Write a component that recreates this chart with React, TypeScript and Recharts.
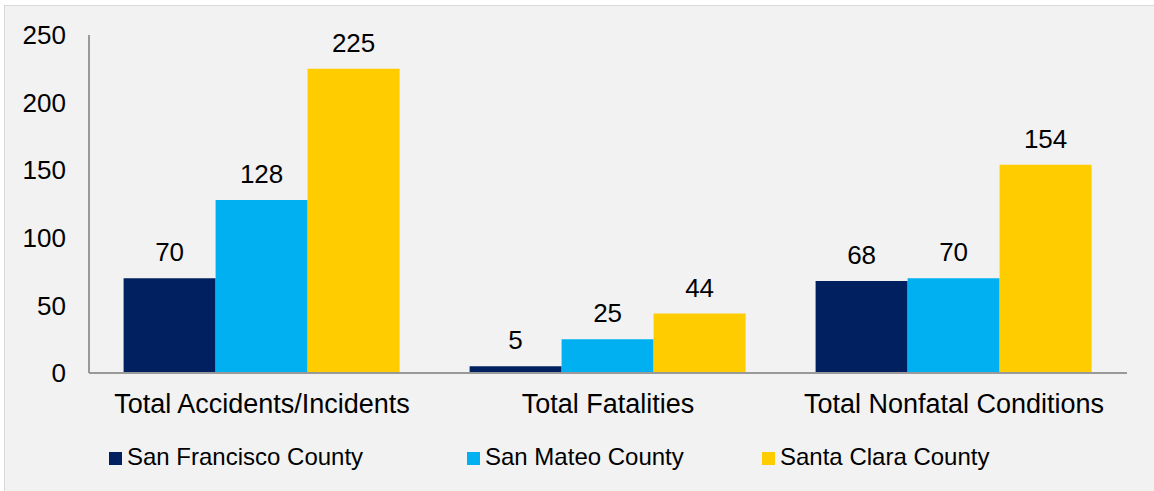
import React from "react";
import { BarChart, Bar, XAxis, YAxis, LabelList, Legend } from "recharts";

const categories = ["Total Accidents/Incidents", "Total Fatalities", "Total Nonfatal Conditions"];
const sanFrancisco = [70, 5, 68];
const sanMateo = [128, 25, 70];
const santaClara = [225, 44, 154];
const seriesNames = ["San Francisco County", "San Mateo County", "Santa Clara County"];
const yTicks = [0, 50, 100, 150, 200, 250];

const colors = ["#002060", "#00B0F0", "#FFCC00"];
const legendLefts = [109, 467, 762];
const FONT = "'Liberation Sans', Arial, Helvetica, sans-serif";

const data = categories.map((c, i) => ({
  name: c,
  sf: sanFrancisco[i],
  sm: sanMateo[i],
  sc: santaClara[i],
}));

const keys = ["sf", "sm", "sc"];

const LegendContent = () => (
  <div style={{ position: "relative", width: 1154, height: 30, fontFamily: FONT }}>
    {seriesNames.map((n, i) => (
      <div key={n} style={{ position: "absolute", left: legendLefts[i], top: 0, height: 30 }}>
        <div
          style={{
            position: "absolute",
            left: 0,
            top: 7,
            width: 13,
            height: 13,
            background: colors[i],
          }}
        />
        <div
          style={{
            position: "absolute",
            left: 18,
            top: 0,
            fontSize: 24,
            lineHeight: "24px",
            whiteSpace: "nowrap",
            color: "#000",
          }}
        >
          {n}
        </div>
      </div>
    ))}
  </div>
);

export default function App() {
  return (
    <div style={{ position: "relative", width: 1154, height: 491, background: "#fff", overflow: "hidden" }}>
      <style>{`body{margin:0;}`}</style>
      <div
        style={{
          position: "absolute",
          left: 4,
          top: 5,
          width: 1160,
          height: 500,
          background: "#F2F2F2",
          borderLeft: "1.5px solid #D9D9D9",
          borderTop: "1.5px solid #D9D9D9",
        }}
      />
      <div style={{ position: "absolute", left: 0, top: 0 }}>
        <BarChart
          width={1154}
          height={491}
          data={data}
          margin={{ top: 35, right: 27, bottom: 78, left: 9 }}
          barCategoryGap="10%"
          barGap={0}
        >
          <XAxis
            dataKey="name"
            tickLine={false}
            tickSize={0}
            tickMargin={21}
            height={40}
            axisLine={{ stroke: "#999999", strokeWidth: 2 }}
            tick={{ fill: "#000", fontSize: 27, fontFamily: FONT }}
            interval={0}
          />
          <YAxis
            domain={[0, 250]}
            ticks={yTicks}
            width={80}
            tickLine={false}
            tickSize={0}
            tickMargin={23}
            axisLine={{ stroke: "#999999", strokeWidth: 2 }}
            tick={{ fill: "#000", fontSize: 26, fontFamily: FONT }}
          />
          <Legend
            layout="vertical"
            align="center"
            verticalAlign="middle"
            wrapperStyle={{ left: 0, top: 445, width: 1154, height: 30 }}
            content={<LegendContent />}
          />
          {keys.map((k, i) => (
            <Bar key={k} dataKey={k} name={seriesNames[i]} fill={colors[i]} isAnimationActive={false}>
              <LabelList
                dataKey={k}
                position="top"
                offset={17}
                fill="#000"
                fontSize={26}
                fontFamily={FONT}
              />
            </Bar>
          ))}
        </BarChart>
      </div>
    </div>
  );
}
